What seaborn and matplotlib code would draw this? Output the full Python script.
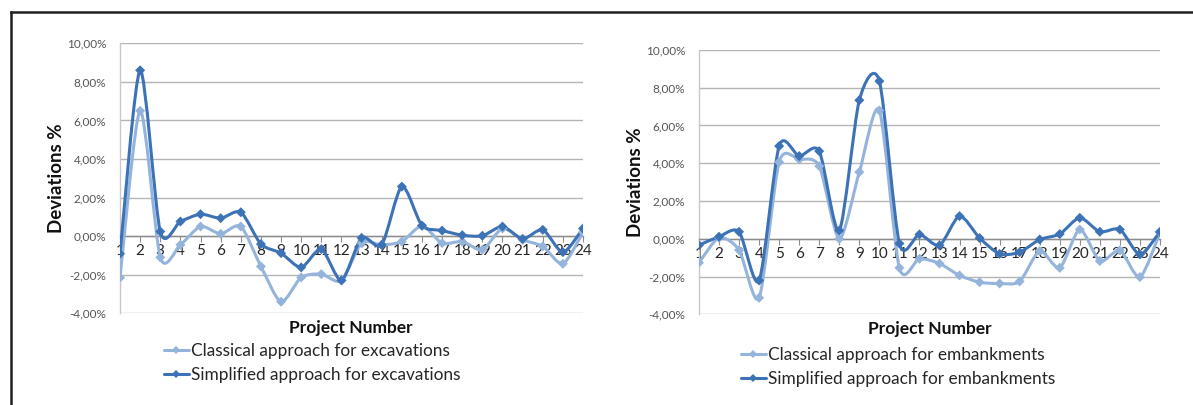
import numpy as np
import pandas as pd
import seaborn as sns
import matplotlib
matplotlib.use("Agg")
import matplotlib.pyplot as plt
from matplotlib.path import Path
from matplotlib.patches import PathPatch
from matplotlib.lines import Line2D
from matplotlib.ticker import FuncFormatter, FixedLocator

# ---- data (deviations in %) ----
projects = list(range(1, 25))

exc_classical = [-2.15, 6.5, -1.1, -0.45, 0.5, 0.12, 0.5, -1.57, -3.4, -2.14, -1.97, -2.3,
                 -0.36, -0.45, -0.28, 0.53, -0.36, -0.28, -0.7, 0.4, -0.19, -0.53, -1.43, 0.2]
exc_simplified = [-0.91, 8.6, 0.24, 0.76, 1.14, 0.93, 1.24, -0.41, -0.88, -1.62, -0.67, -2.29,
                  -0.09, -0.45, 2.57, 0.55, 0.29, 0.05, 0.02, 0.5, -0.14, 0.33, -0.83, 0.4]

emb_classical = [-1.27, 0.05, -0.6, -3.13, 4.06, 4.2, 3.85, 0.0, 3.53, 6.8, -1.54, -1.06,
                 -1.31, -1.94, -2.3, -2.37, -2.26, -0.65, -1.54, 0.49, -1.18, -0.62, -2.03, 0.32]
emb_simplified = [-0.34, 0.11, 0.37, -2.21, 4.91, 4.38, 4.64, 0.44, 7.34, 8.35, -0.25, 0.23,
                  -0.35, 1.2, 0.04, -0.8, -0.71, -0.04, 0.25, 1.11, 0.37, 0.49, -0.83, 0.37]

y_ticks = [-4, -2, 0, 2, 4, 6, 8, 10]

labels_exc = ["Classical approach for excavations", "Simplified approach for excavations"]
labels_emb = ["Classical approach for embankments", "Simplified approach for embankments"]

LIGHT = "#94B4DC"
DARK = "#3C72B6"

sns.set_theme(style="white")
plt.rcParams["font.family"] = ["Lato", "DejaVu Sans"]


def smooth_path(xs, ys, k=0.13):
    """Cubic Bezier path through all points, tangents from neighbouring points."""
    p = np.column_stack([xs, ys]).astype(float)
    n = len(p)
    verts = [p[0]]
    codes = [Path.MOVETO]
    for i in range(n - 1):
        prev = p[i - 1] if i > 0 else p[i]
        nxt = p[i + 2] if i + 2 < n else p[i + 1]
        c1 = p[i] + (p[i + 1] - prev) * k
        c2 = p[i + 1] - (nxt - p[i]) * k
        verts += [c1, c2, p[i + 1]]
        codes += [Path.CURVE4] * 3
    return Path(verts, codes)


def draw_panel(ax, classical, simplified, labels, leg_anchor):
    df = pd.DataFrame({
        "project": projects * 2,
        "dev": classical + simplified,
        "series": [labels[0]] * 24 + [labels[1]] * 24,
    })
    for vals, col in ((classical, LIGHT), (simplified, DARK)):
        ax.add_patch(PathPatch(smooth_path(projects, vals), facecolor="none",
                               edgecolor=col, lw=2.2, zorder=3, capstyle="round",
                               joinstyle="round"))
    sns.scatterplot(data=df, x="project", y="dev", hue="series",
                    palette=[LIGHT, DARK], marker="D", s=26, linewidth=0,
                    legend=False, zorder=4, ax=ax)

    ax.set_xlim(1, 24)
    ax.set_ylim(-4, 10)
    ax.yaxis.set_major_locator(FixedLocator(y_ticks))
    ax.yaxis.set_major_formatter(FuncFormatter(lambda v, _: f"{v:.2f}%".replace(".", ",")))
    ax.set_xticks(projects)
    ax.set_xticklabels([str(p) for p in projects], fontsize=10, fontweight="bold",
                       color="#222222", family=["Liberation Serif", "DejaVu Serif"])

    ax.grid(axis="y", color="#B5B5B5", lw=1.0)
    ax.grid(axis="x", visible=False)
    ax.set_axisbelow(True)

    for side in ("top", "right"):
        ax.spines[side].set_visible(False)
    ax.spines["left"].set_color("#C8C8C8")
    ax.spines["left"].set_linewidth(1.0)
    ax.spines["bottom"].set_position(("data", 0))
    ax.spines["bottom"].set_color("#8C8C8C")
    ax.spines["bottom"].set_linewidth(1.0)

    ax.tick_params(axis="y", labelsize=8.5, labelcolor="#555555", length=0, pad=10)
    ax.tick_params(axis="x", direction="out", length=4, width=0.8, color="#8C8C8C",
                   pad=2, bottom=True)

    ax.set_xlabel("")
    ax.set_ylabel("Deviations %", fontsize=13.5, fontweight="bold", color="#111111",
                  labelpad=1)

    handles = [Line2D([], [], color=c, lw=2.2, marker="D", markersize=4.5,
                      markeredgewidth=0) for c in (LIGHT, DARK)]
    ax.figure.legend(handles, labels, loc="upper left", bbox_to_anchor=leg_anchor,
                     frameon=False, fontsize=12.4, handlelength=1.45, handletextpad=0.12,
                     labelspacing=0.48, borderpad=0, borderaxespad=0,
                     labelcolor="#262626")


fig = plt.figure(figsize=(11.93, 4.05), dpi=100)

ax1 = fig.add_axes([0.1006, 0.2264, 0.3881, 0.6667])
ax2 = fig.add_axes([0.5859, 0.2240, 0.3864, 0.6526])

draw_panel(ax1, exc_classical, exc_simplified, labels_exc, (164 / 1193, 1 - 343 / 405))
draw_panel(ax2, emb_classical, emb_simplified, labels_emb, (741 / 1193, 1 - 347 / 405))

fig.text(351 / 1193, 1 - 328 / 405, "Project Number", ha="center", va="center",
         fontsize=12.5, fontweight="bold", color="#111111")
fig.text(930 / 1193, 1 - 329 / 405, "Project Number", ha="center", va="center",
         fontsize=12.5, fontweight="bold", color="#111111")

# outer frame (left and top edges)
fr_x = 11 / 1193
fr_y = 1 - 12 / 405
fig.add_artist(Line2D([fr_x, fr_x], [0, fr_y], transform=fig.transFigure,
                      color="#231F20", lw=1.8, solid_capstyle="projecting"))
fig.add_artist(Line2D([fr_x, 1], [fr_y, fr_y], transform=fig.transFigure,
                      color="#231F20", lw=1.8, solid_capstyle="projecting"))

fig.savefig("out.png", dpi=100)
